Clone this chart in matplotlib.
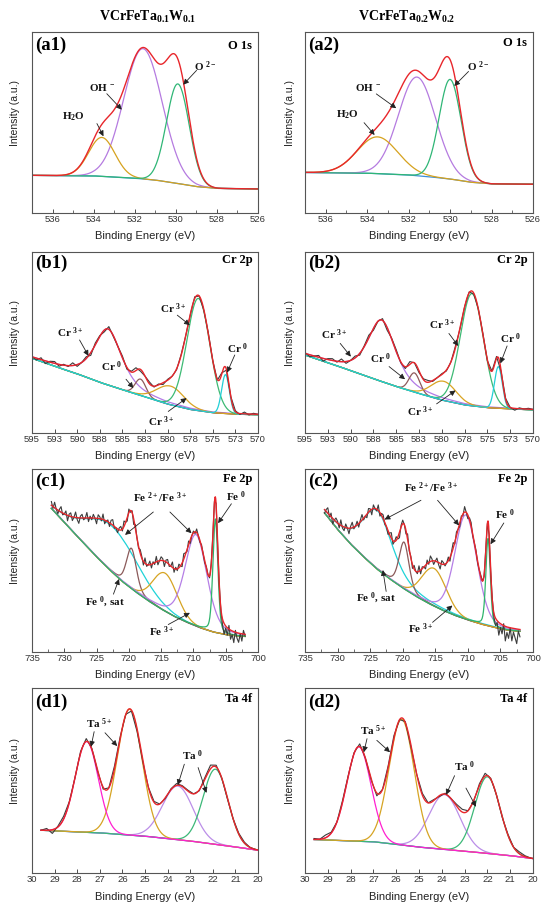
import numpy as np
import matplotlib
matplotlib.use('Agg')
import matplotlib.pyplot as plt
from matplotlib.ticker import FixedLocator, FixedFormatter, MultipleLocator

plt.rcParams['font.family'] = ['Liberation Sans', 'DejaVu Sans']
plt.rcParams['mathtext.fontset'] = 'custom'
plt.rcParams['mathtext.rm'] = 'Liberation Serif'
plt.rcParams['mathtext.bf'] = 'Liberation Serif:bold'
plt.rcParams['mathtext.it'] = 'Liberation Serif:italic'

SERIF = ['Liberation Serif', 'DejaVu Serif']

# ------------------------------------------------------------------
# Data.  Intensities are in % of panel height.
# Peaks: centre (eV), height, FWHM (eV), Lorentzian fraction.
# ------------------------------------------------------------------
titles = [r'VCrFeTa$_{\mathbf{0.1}}$W$_{\mathbf{0.1}}$',
          r'VCrFeTa$_{\mathbf{0.2}}$W$_{\mathbf{0.2}}$']

# O 1s  (H2O, OH-, O2-)
a1_bg_e = [537, 534, 532, 531, 530, 529, 528, 526]
a1_bg_y = [20.8, 20.5, 19.2, 18.2, 16.5, 14.6, 13.6, 13.3]
a1_centre = [533.6, 531.6, 529.9]
a1_height = [21.5, 72.0, 55.0]
a1_fwhm = [1.5, 2.2, 1.3]
a1_eta = [0, 0, 0]

a2_bg_e = [537, 534, 532, 531, 530, 529, 528, 526]
a2_bg_y = [22.4, 22.0, 21.0, 20.0, 18.8, 17.0, 16.1, 15.9]
a2_centre = [533.5, 531.6, 530.0]
a2_height = [20.3, 54.5, 55.0]
a2_fwhm = [2.3, 2.1, 1.25]
a2_eta = [0, 0, 0]

# Cr 2p  (Cr3+, Cr0, Cr3+, Cr3+, Cr0)
b1_bg_e = [595, 592, 590, 587.5, 585, 582.5, 580, 577.5, 575, 572.5, 570]
b1_bg_y = [41.3, 36.0, 32.7, 28.0, 23.9, 20.0, 16.0, 13.0, 11.2, 10.4, 10.1]
b1_centre = [586.6, 583.0, 579.7, 576.6, 573.6]
b1_height = [31.0, 9.0, 10.3, 62.0, 21.5]
b1_fwhm = [3.6, 1.4, 3.5, 3.0, 1.0]
b1_eta = [0.6, 0, 0, 0, 0]
b1_noise = [0, -1, 1, -1.5, 0.5, 1, -1, 0.5, -0.5, 1.5,
            -1, 0, 1, -1.5, 1, 0.5, -1, 1.5, -0.5, 0,
            1, -1, 0.5, 1.5, -1, 0, 1, -0.5, 0.5, -1,
            0.5, 0, -0.5, 0.5, 0, -0.5, 1, 0, -0.5, 0.5,
            0, -0.5, 0.5, -0.5, 0, 0.5, -0.5, 1, -0.5, 0.5, 0]

b2_bg_e = [595, 592, 590, 587.5, 585, 582.5, 580, 577.5, 575, 572.5, 570]
b2_bg_y = [43.1, 38.0, 34.5, 30.0, 25.7, 21.8, 18.2, 15.5, 14.0, 13.3, 12.8]
b2_centre = [586.6, 583.0, 579.8, 576.7, 573.8]
b2_height = [34.0, 10.6, 10.6, 62.0, 23.0]
b2_fwhm = [3.6, 1.4, 3.2, 3.0, 1.0]
b2_eta = [0.6, 0, 0, 0, 0]
b2_noise = [0.5, -1, 0, 1, -1.5, 0.5, 1, -0.5, 1.5, -1,
            0, 1, -1, 0.5, 1.5, -1, 0, 1, -1.5, 0.5,
            1, -0.5, -1, 1.5, 0, -1, 0.5, 1, -0.5, 0,
            0.5, -0.5, 0, 1, -0.5, 0, 0.5, -0.5, 0, 0.5,
            -0.5, 0, 1, -0.5, 0.5, 0, -1, 0.5, 0, 0.5, 0]

# Fe 2p  (2p1/2, Fe0 sat, Fe3+, Fe2+/Fe3+, Fe0)
c1_bg_e = [732, 729, 727, 725, 723, 721, 719, 717, 715, 713, 711, 709, 707, 705, 703, 702]
c1_bg_y = [78.5, 67, 59.5, 52, 45, 38.5, 33, 28, 23.5, 19.5, 16.2, 13.3, 11, 9.5, 8.7, 8.5]
c1_centre = [722.5, 719.6, 714.4, 709.6, 706.6]
c1_height = [25.0, 22.0, 20.8, 50.0, 62.0]
c1_fwhm = [9.5, 1.8, 4.4, 4.0, 0.9]
c1_eta = [0, 0.3, 0, 0.3, 0.3]
c1_noise = [2, -1, 3, 0, -2, 1, 3, -1, 0, 2, -3, 1, 2, -2, 0, 3, -1, -3, 1, 2,
            -1, 0, 3, -2, 1, -1, 2, 0, -3, 2, 1, -1, 3, -2, 0, 1, -2, 2, 3, -1,
            0, -2, 1, 2, -1, 3, 0, -2, 2, -1, 1, -3, 2, 0, -1, 2, 1, -2, 3, -1,
            0, 2, -2, 1, -1, 3, -2, 0, 2, 1, -3, 1, 2, -1, 0, 3, -2, 1, -1, 2,
            0, -2, 3, 1, -1, 2, -2, 0, 1, -1, 2, 0, -1, 1, 0, -1, 1, 0, -1, 1,
            0, 1, 0, -1, 0, -1, -3, -6, -1, -4, 2, -5, -2, -6, 1, -3, -5, 0, -4, 2, -1]

c2_bg_e = [732, 730, 728, 726, 724, 722, 720, 718, 716, 714, 712, 710, 708, 706, 704, 702]
c2_bg_y = [76, 67, 59, 52, 45.5, 40, 35, 30.5, 26.5, 23, 20, 17.5, 15.3, 13.5, 12, 11.3]
c2_centre = [723.9, 719.8, 715.2, 710.3, 706.9]
c2_height = [32.0, 25.5, 20.6, 57.0, 47.7]
c2_fwhm = [5.5, 1.8, 4.4, 4.0, 0.8]
c2_eta = [0.5, 0.3, 0, 0.2, 0.3]
c2_noise = [-2, 1, 3, -1, 2, -3, 0, 2, 1, -2, 3, -1, -2, 2, 0, -3, 1, 3, -1, 0,
            2, -2, 1, 3, -1, 0, -2, 2, 1, -3, 2, 0, -1, 3, -2, 1, 2, -1, 0, -2,
            1, 3, -2, 0, 2, -1, -3, 1, 2, 0, -2, 3, -1, 1, -2, 2, 0, -1, 3, -2,
            1, 0, -2, 2, -1, 3, 1, -2, 0, 2, -1, -3, 2, 1, -1, 0, 2, -2, 1, 3,
            -1, 2, 0, -2, 1, -1, 3, 0, -2, 1, 2, -1, 0, 1, -1, 0, 1, 0, -1, 1,
            0, -1, 0, 1, -2, -4, -1, -7, -2, -5, 1, -8, -3, -6, 0, -7, -2, -5, -8, -1, -4]

# Ta 4f  (Ta5+, Ta5+, Ta0, Ta0)
d1_bg_e = [29.6, 27, 25, 23, 21, 20]
d1_bg_y = [23.1, 21.7, 19.9, 17.3, 14.1, 12.3]
d1_centre = [27.58, 25.68, 23.55, 21.88]
d1_height = [49.0, 68.0, 29.0, 40.6]
d1_fwhm = [1.2, 1.3, 1.6, 1.3]
d1_eta = [0, 0, 0, 0]
d1_noise = [0, 1, -2, 0.5, 1.5, 0.5, 0, 1, 1.5, 0.5, -0.5, -1, 0, 1.5, 1, 0, -0.5,
            -1.5, -1, 0, 0.5, 0, -0.5, 0.5, 1, 0.5, 0.5, 0, -0.5, 1, 2, 1, 0,
            -0.5, 0, 0.5, 0.5, 0, 0]

d2_bg_e = [29.6, 27, 25, 23, 21, 20]
d2_bg_y = [18.1, 16.9, 14.0, 11.8, 9.4, 7.8]
d2_centre = [27.64, 25.76, 23.88, 22.0]
d2_height = [51.0, 68.0, 29.6, 41.4]
d2_fwhm = [1.25, 1.3, 1.6, 1.3]
d2_eta = [0, 0, 0, 0]
d2_noise = [0.5, 0, 1.5, 0.5, 0, 1, 0.5, 0.5, 1.5, 0, -0.5, -1.5, 0, 1, 1.5, 0,
            0.5, -1, 0, 1, 0, 0.5, -0.5, 0.5, 0, 1, 1.5, 0, -0.5, 1, 1.5, 0.5,
            0, -0.5, 0.5, 0, 1, 0.5, 0]

# x-axis ticks
a_ticks = [536, 534, 532, 530, 528, 526]
b_ticks = [595, 592.5, 590, 587.5, 585, 582.5, 580, 577.5, 575, 572.5, 570]
b_tick_labels = ['595', '593', '590', '588', '585', '583', '580', '578', '575', '573', '570']
c_ticks = [735, 730, 725, 720, 715, 710, 705, 700]
d_ticks = [30, 29, 28, 27, 26, 25, 24, 23, 22, 21, 20]

# annotation texts (label, E, Y) and arrows ((E0, Y0), (E1, Y1))
a1_text = [(r'H$_{\mathbf{2}}$O', 534.98, 53.4), (r'OH $^{\mathbf{-}}$', 533.6, 69.6),
           (r'O $^{\mathbf{2-}}$', 528.59, 81.0)]
a1_arrows = [((533.84, 49.4), (533.52, 42.4)), ((533.36, 65.9), (532.63, 57.1)),
             ((528.99, 78.8), (529.64, 70.9))]
a2_text = [(r'H$_{\mathbf{2}}$O', 534.95, 54.2), (r'OH $^{\mathbf{-}}$', 533.96, 69.5),
           (r'O $^{\mathbf{2-}}$', 528.65, 81.0)]
a2_arrows = [((534.15, 49.9), (533.64, 43.1)), ((533.56, 65.8), (532.6, 57.9)),
             ((529.11, 78.2), (529.8, 70.2))]

CR3 = r'Cr $^{\mathbf{3+}}$'
CR0 = r'Cr $^{\mathbf{0}}$'
b1_text = [(CR3, 590.77, 55.4), (CR0, 586.18, 36.7), (CR3, 580.66, 6.4),
           (CR3, 579.38, 68.8), (CR0, 572.21, 46.8)]
b1_arrows = [((589.74, 51.4), (588.75, 42.6)), ((584.6, 29.7), (583.79, 24.8)),
             ((579.93, 11.9), (577.9, 19.3)), ((578.93, 65.1), (577.54, 59.6)),
             ((572.57, 43.1), (573.42, 33.4))]
b2_text = [(CR3, 591.79, 54.1), (CR0, 586.69, 41.3), (CR3, 582.32, 11.9),
           (CR3, 579.95, 59.6), (CR0, 572.48, 52.3)]
b2_arrows = [((591.14, 49.5), (589.97, 42.2)), ((585.78, 36.7), (584.03, 29.7)),
             ((580.57, 16.1), (578.49, 23.5)), ((579.22, 55.0), (578.2, 48.1)),
             ((572.84, 48.1), (573.57, 38.5))]

FE23 = r'Fe $^{\mathbf{2+}}$/Fe $^{\mathbf{3+}}$'
FE0 = r'Fe $^{\mathbf{0}}$'
FESAT = r'Fe $^{\mathbf{0}}$, sat'
FE3 = r'Fe $^{\mathbf{3+}}$'
c1_text = [(FE23, 715.19, 84.3), (FE0, 703.35, 85.0), (FESAT, 723.68, 27.0), (FE3, 714.93, 11.3)]
c1_arrows = [((716.21, 76.5), (720.59, 64.0)), ((713.64, 76.5), (710.3, 64.9)),
             ((704.12, 81.0), (706.18, 70.4)), ((722.39, 31.6), (721.52, 39.9)),
             ((713.9, 15.0), (710.55, 21.4))]
c2_text = [(FE23, 715.67, 89.9), (FE0, 704.23, 75.1), (FESAT, 724.06, 29.1), (FE3, 717.2, 12.5)]
c2_arrows = [((717.2, 82.9), (722.79, 72.4)), ((714.65, 82.9), (711.35, 69.2)),
             ((704.48, 70.5), (706.52, 58.9)), ((722.54, 33.1), (723.05, 44.8)),
             ((715.42, 16.2), (712.37, 25.4))]

TA5 = r'Ta $^{\mathbf{5+}}$'
TA0 = r'Ta $^{\mathbf{0}}$'
d1_text = [(TA5, 27.03, 80.9), (TA0, 22.9, 63.2)]
d1_arrows = [((27.25, 76.4), (27.39, 68.2)), ((26.77, 75.8), (26.23, 68.6)),
             ((23.26, 58.8), (23.55, 47.5)), ((22.65, 57.0), (22.28, 43.3))]
d2_text = [(TA5, 26.99, 77.1), (TA0, 23.01, 57.2)]
d2_arrows = [((27.28, 72.6), (27.42, 65.3)), ((26.85, 71.7), (26.27, 65.3)),
             ((23.44, 52.6), (23.81, 42.3)), ((22.94, 45.9), (22.5, 35.8))]

# ------------------------------------------------------------------
# styles
# ------------------------------------------------------------------
RED = '#e8262b'
RAW = '#3c3c3c'
COLORS = {
    'O': ('#3d8ed8', ['#b57be0', '#d6a21e', '#2fb676']),
    'Cr': ('#5e5656', ['#b27be6', '#8e5b5b', '#d9a423', '#3dba74', '#22cfd6']),
    'Fe': ('#6a5535', ['#1fd3d8', '#8b5a5a', '#d6a423', '#b57fe6', '#2fb46c']),
    'Ta': ('#2f4fe0', ['#bb8ee8', '#3cb878', '#d6a423', '#ff20d0']),
}
# drawing order of components for each spectrum (index into peak lists)
ORDER = {'O': [1, 0, 2], 'Cr': [0, 1, 2, 3, 4], 'Fe': [0, 1, 2, 3, 4], 'Ta': [2, 3, 1, 0]}


def peak(x, c, h, w, eta):
    g = np.exp(-4 * np.log(2) * (x - c) ** 2 / w ** 2)
    lor = 1 / (1 + 4 * (x - c) ** 2 / w ** 2)
    return h * ((1 - eta) * g + eta * lor)


def background(x, be, by):
    be = np.asarray(be, float)
    by = np.asarray(by, float)
    o = np.argsort(be)
    return np.interp(x, be[o], by[o])


def draw_spectrum(ax, kind, erange, bg_e, bg_y, centre, height, fwhm, eta,
                  noise=None, raw_step=None):
    x = np.linspace(erange[0], erange[1], 600)
    bg = background(x, bg_e, bg_y)
    comps = [peak(x, c, h, w, e) for c, h, w, e in zip(centre, height, fwhm, eta)]
    bg_col, comp_cols = COLORS[kind]
    ax.plot(x, bg, color=bg_col, lw=0.9)
    for k, i in enumerate(ORDER[kind]):
        ax.plot(x, bg + comps[i], color=comp_cols[k], lw=0.9)
    if noise is not None:
        xr = erange[0] - raw_step * np.arange(len(noise))
        yr = background(xr, bg_e, bg_y) + np.asarray(noise, float)
        for c, h, w, e in zip(centre, height, fwhm, eta):
            yr = yr + peak(xr, c, h, w, e)
        ax.plot(xr, yr, color=RAW, lw=0.8)
    ax.plot(x, bg + np.sum(comps, axis=0), color=RED, lw=1.0)


def style_axis(ax, xlim, ticks, minor=None, labels=None, col=0):
    ax.set_xlim(*xlim)
    ax.set_ylim(0, 100)
    ax.set_yticks([])
    ax.xaxis.set_major_locator(FixedLocator(ticks))
    if labels is not None:
        ax.xaxis.set_major_formatter(FixedFormatter(labels))
    if minor is not None:
        ax.xaxis.set_minor_locator(MultipleLocator(minor))
    ax.tick_params(axis='x', which='major', direction='in', length=3, width=0.6,
                   labelsize=6.8, pad=1.5, colors='#333333')
    ax.tick_params(axis='x', which='minor', direction='in', length=2, width=0.5,
                   colors='#333333')
    for s in ax.spines.values():
        s.set_color('#555555')
        s.set_linewidth(0.8)
    ax.set_xlabel('Binding Energy (eV)', fontsize=8, color='#222222')
    ax.xaxis.set_label_coords(0.5, -0.10)
    ax.set_ylabel('Intensity (a.u.)', fontsize=7.5, color='#222222')
    ax.yaxis.set_label_coords(-0.055 if col == 0 else -0.046, 0.55)


def annotate(ax, texts, arrows):
    for lab, e, y in texts:
        ax.text(e, y, lab, family=SERIF, fontweight='bold', fontsize=8,
                ha='center', va='center', color='#111111')
    for (e0, y0), (e1, y1) in arrows:
        ax.annotate('', xy=(e1, y1), xytext=(e0, y0),
                    arrowprops=dict(arrowstyle='-|>', color='#222222', lw=0.6,
                                    mutation_scale=8, shrinkA=0, shrinkB=0))


# ------------------------------------------------------------------
W, H = 550, 909
fig = plt.figure(figsize=(W / 100, H / 100), dpi=100)

cols = [(32, 226), (305, 228)]
rows = [(32, 213), (252, 433), (469, 652), (688, 873)]
# vertical place (axes fraction) of the panel tag and of the core-level label
tag_y = [0.928, 0.935, 0.93, 0.92]
core_y = [[0.923, 0.94], [0.956, 0.956], [0.945, 0.945], [0.94, 0.94]]


def make_ax(r, c):
    x0, w = cols[c]
    t, b = rows[r]
    return fig.add_axes([x0 / W, 1 - b / H, w / W, (b - t) / H])


panels = [
    (0, 0, '(a1)', 'O 1s', 'O', (537, 526), a1_bg_e, a1_bg_y, a1_centre, a1_height, a1_fwhm, a1_eta, None, a1_text, a1_arrows),
    (0, 1, '(a2)', 'O 1s', 'O', (537, 526), a2_bg_e, a2_bg_y, a2_centre, a2_height, a2_fwhm, a2_eta, None, a2_text, a2_arrows),
    (1, 0, '(b1)', 'Cr 2p', 'Cr', (595, 570), b1_bg_e, b1_bg_y, b1_centre, b1_height, b1_fwhm, b1_eta, (b1_noise, 0.5), b1_text, b1_arrows),
    (1, 1, '(b2)', 'Cr 2p', 'Cr', (595, 570), b2_bg_e, b2_bg_y, b2_centre, b2_height, b2_fwhm, b2_eta, (b2_noise, 0.5), b2_text, b2_arrows),
    (2, 0, '(c1)', 'Fe 2p', 'Fe', (732, 702), c1_bg_e, c1_bg_y, c1_centre, c1_height, c1_fwhm, c1_eta, (c1_noise, 0.25), c1_text, c1_arrows),
    (2, 1, '(c2)', 'Fe 2p', 'Fe', (732, 702), c2_bg_e, c2_bg_y, c2_centre, c2_height, c2_fwhm, c2_eta, (c2_noise, 0.25), c2_text, c2_arrows),
    (3, 0, '(d1)', 'Ta 4f', 'Ta', (29.6, 20), d1_bg_e, d1_bg_y, d1_centre, d1_height, d1_fwhm, d1_eta, (d1_noise, 0.25), d1_text, d1_arrows),
    (3, 1, '(d2)', 'Ta 4f', 'Ta', (29.6, 20), d2_bg_e, d2_bg_y, d2_centre, d2_height, d2_fwhm, d2_eta, (d2_noise, 0.25), d2_text, d2_arrows),
]

axis_cfg = {
    0: ((537, 526), a_ticks, 1, None),
    1: ((595, 570), b_ticks, None, b_tick_labels),
    2: ((735, 700), c_ticks, 2.5, None),
    3: ((30, 20), d_ticks, None, None),
}

for (r, c, tag, core, kind, er, be, by, cen, hgt, fw, et, raw, texts, arrows) in panels:
    ax = make_ax(r, c)
    if raw is None:
        draw_spectrum(ax, kind, er, be, by, cen, hgt, fw, et)
    else:
        draw_spectrum(ax, kind, er, be, by, cen, hgt, fw, et, raw[0], raw[1])
    xlim, ticks, minor, labels = axis_cfg[r]
    style_axis(ax, xlim, ticks, minor, labels, col=c)
    annotate(ax, texts, arrows)
    ax.text(0.015, tag_y[r], tag, transform=ax.transAxes, family=SERIF,
            fontweight='bold', fontsize=13.5, ha='left', va='center')
    ax.text(0.975, core_y[r][c], core, transform=ax.transAxes, family=SERIF,
            fontweight='bold', fontsize=9, ha='right', va='center')

fig.text(148 / W, 1 - 17 / H, titles[0], family=SERIF, fontweight='bold',
         fontsize=10, ha='center', va='center')
fig.text(407 / W, 1 - 17 / H, titles[1], family=SERIF, fontweight='bold',
         fontsize=10, ha='center', va='center')

fig.savefig('out.png', dpi=100)
